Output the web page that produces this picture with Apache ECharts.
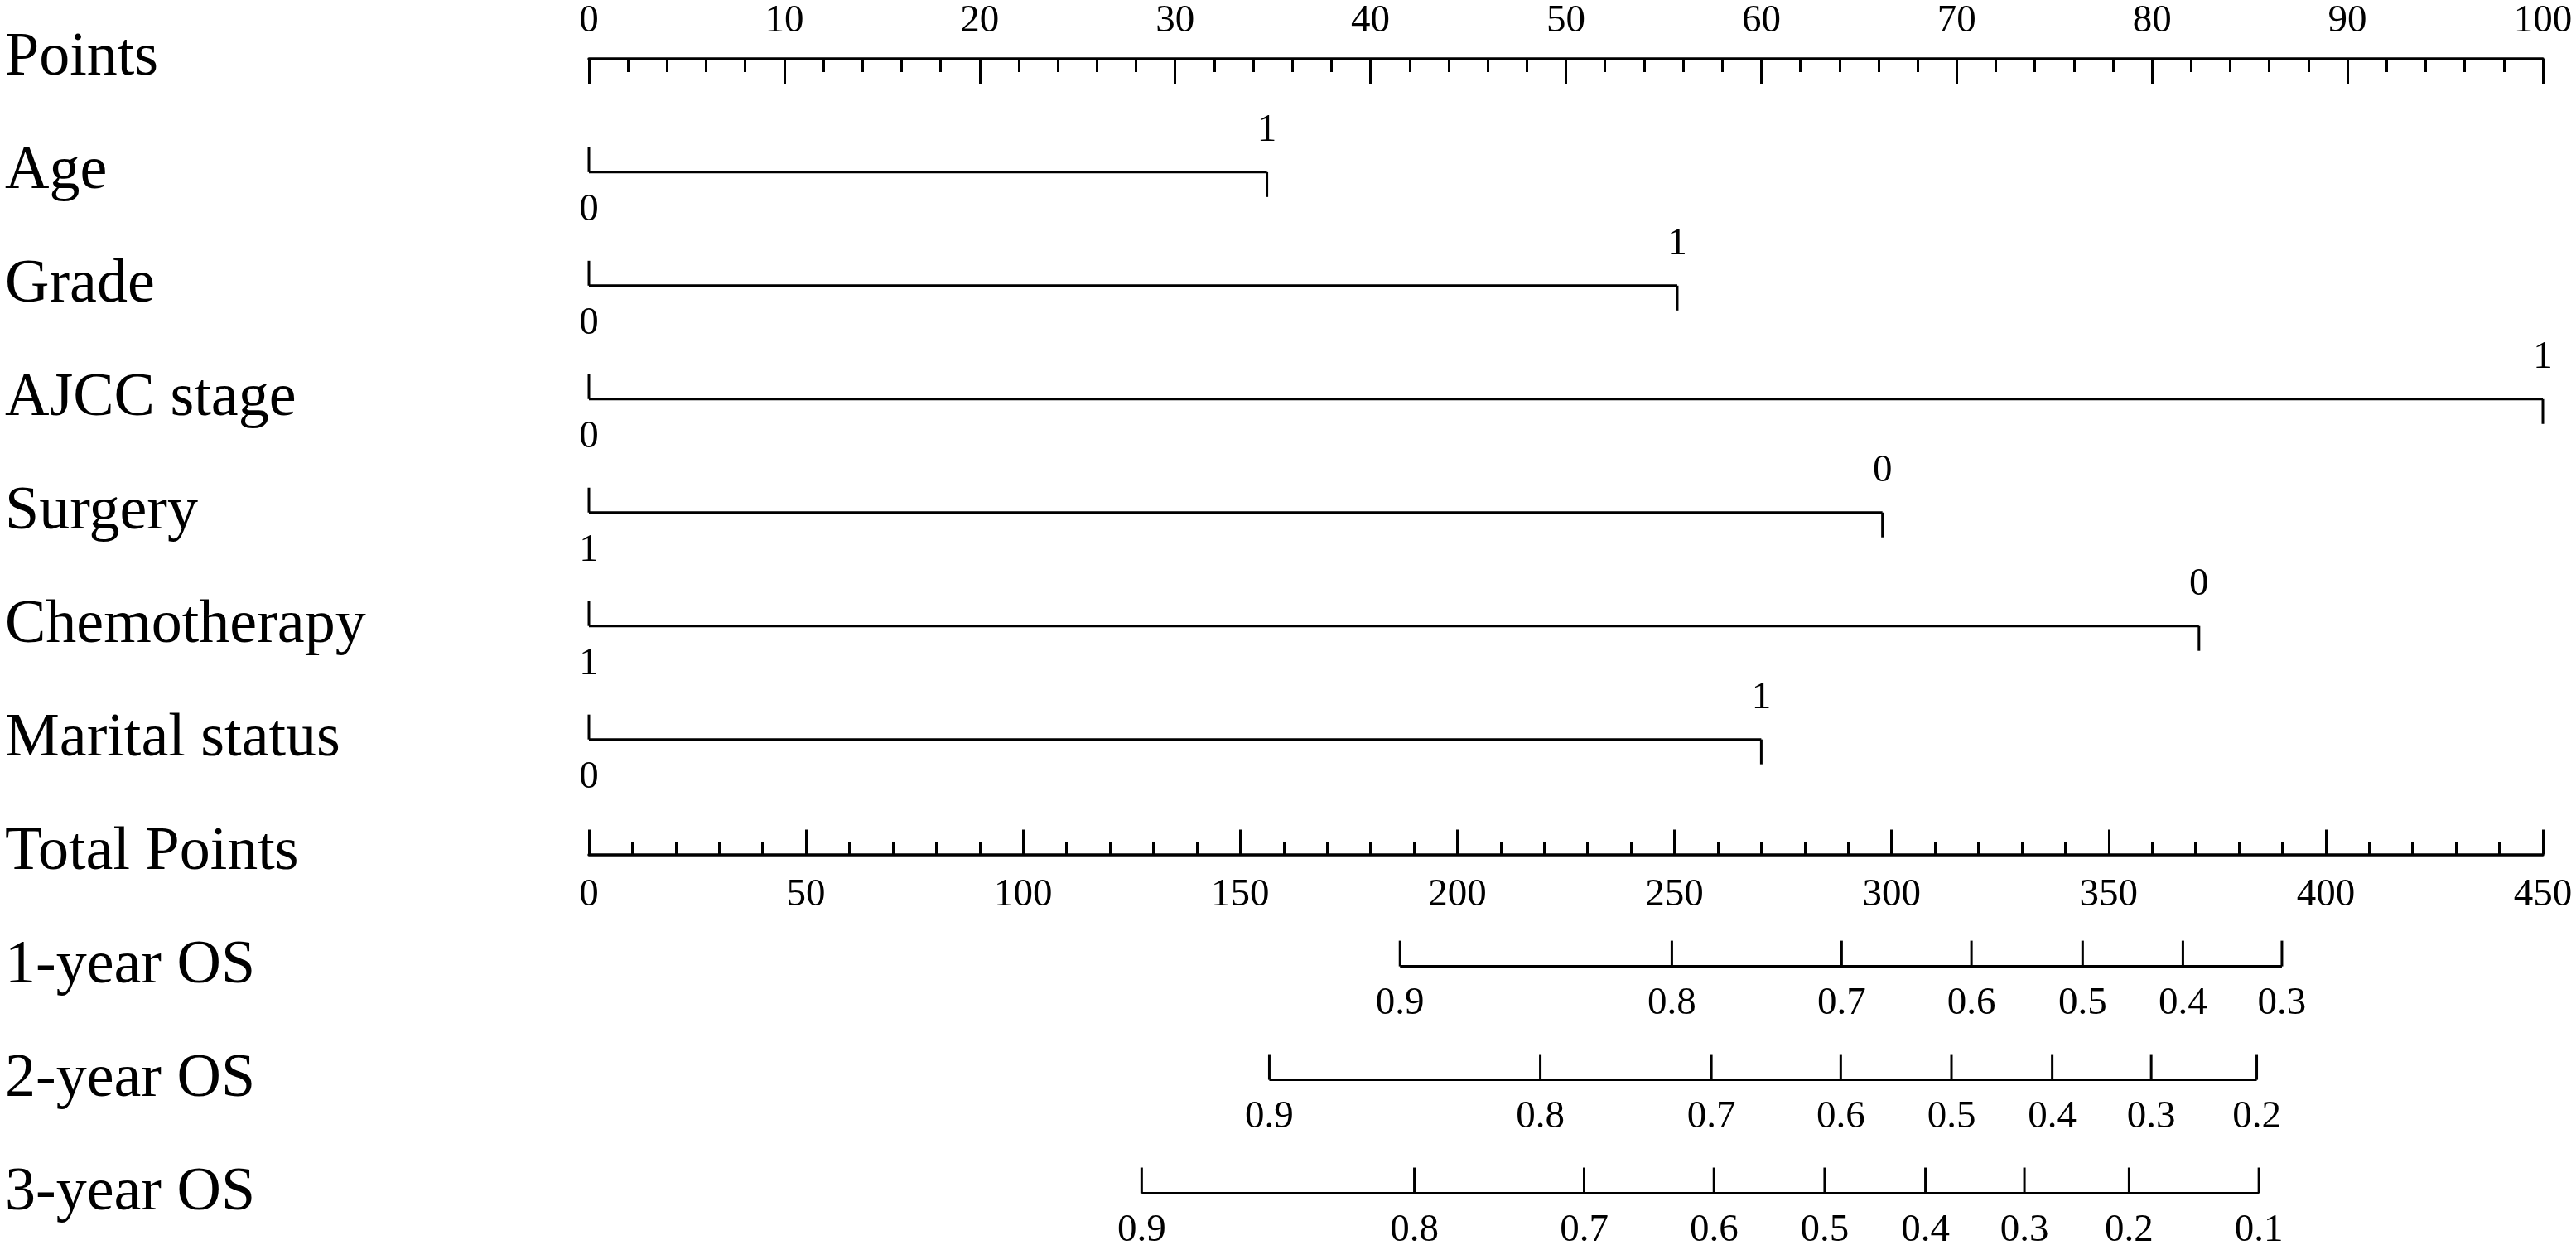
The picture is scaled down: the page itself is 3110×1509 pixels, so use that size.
<!DOCTYPE html>
<html>
<head>
<meta charset="utf-8">
<title>Nomogram</title>
<script src="https://cdn.jsdelivr.net/npm/echarts@6/dist/echarts.min.js"></script>
<style>
html, body { margin: 0; padding: 0; background: #fff; }
#main { width: 3110px; height: 1509px; }
</style>
</head>
<body>
<div id="main"></div>
<script>
// row names, top to bottom
const rowNames = ['Points', 'Age', 'Grade', 'AJCC stage', 'Surgery', 'Chemotherapy',
    'Marital status', 'Total Points', '1-year OS', '2-year OS', '3-year OS'];

// predictors: points for the highest level (low level = 0 points)
const varRows = [1, 2, 3, 4, 5, 6];
const varPoints = [34.7, 55.7, 100, 66.2, 82.4, 60.0];
const varLowLabels = ['0', '0', '0', '1', '1', '0'];
const varHighLabels = ['1', '1', '1', '0', '0', '1'];

// survival scales: probability labels and their total points
const osRows = [8, 9, 10];
const os1Probs = ['0.9', '0.8', '0.7', '0.6', '0.5', '0.4', '0.3'];
const os1Total = [186.8, 249.4, 288.5, 318.4, 344.0, 367.1, 389.9];
const os2Probs = ['0.9', '0.8', '0.7', '0.6', '0.5', '0.4', '0.3', '0.2'];
const os2Total = [156.7, 219.1, 258.5, 288.3, 313.8, 337.0, 359.8, 384.1];
const os3Probs = ['0.9', '0.8', '0.7', '0.6', '0.5', '0.4', '0.3', '0.2', '0.1'];
const os3Total = [127.3, 190.1, 229.2, 259.1, 284.6, 307.8, 330.6, 354.7, 384.6];
const osProbs = [os1Probs, os2Probs, os3Probs];
const osTotal = [os1Total, os2Total, os3Total];

const FONT = 'Liberation Serif';
const tickFont = 47;
const lw = 3;

var myChart = echarts.init(document.getElementById('main'));

function txt(x, y, s) {
    return {
        type: 'text',
        style: { x: x, y: y, text: s, fill: '#000', font: tickFont + 'px "' + FONT + '"',
            align: 'center', verticalAlign: 'middle' }
    };
}
function seg(x1, y1, x2, y2) {
    return {
        type: 'line',
        shape: { x1: x1, y1: y1, x2: x2, y2: y2 },
        style: { stroke: '#000', lineWidth: lw }
    };
}

// predictor lines
function renderVar(params, api) {
    var i = params.dataIndex;
    var p0 = api.coord([0, api.value(1)]);
    var p1 = api.coord([api.value(0), api.value(1)]);
    return {
        type: 'group',
        children: [
            seg(p0[0], p0[1], p1[0], p1[1]),
            seg(p0[0], p0[1] - 30, p0[0], p0[1]),
            seg(p1[0], p1[1], p1[0], p1[1] + 30),
            txt(p0[0], p0[1] + 46, varLowLabels[i]),
            txt(p1[0], p1[1] - 50, varHighLabels[i])
        ]
    };
}

// survival probability scales
function renderOS(params, api) {
    var i = params.dataIndex;
    var row = api.value(0);
    var tot = osTotal[i];
    var children = [];
    var a = api.coord([tot[0], row]);
    var b = api.coord([tot[tot.length - 1], row]);
    children.push(seg(a[0], a[1], b[0], b[1]));
    tot.forEach(function (t, k) {
        var p = api.coord([t, row]);
        children.push(seg(p[0], p[1] - 31, p[0], p[1]));
        children.push(txt(p[0], p[1] + 45, osProbs[i][k]));
    });
    return { type: 'group', children: children };
}

var rowH = 137.2;
var firstRow = 71;

var option = {
    backgroundColor: '#fff',
    animation: false,
    grid: [
        // Points axis
        { left: 711, right: 40, top: firstRow, height: 100 },
        // Total Points axis
        { left: 711, right: 40, top: firstRow + 7 * rowH - 100, height: 100 },
        // rows
        { left: 711, right: 40, top: firstRow - rowH / 2, height: rowH * rowNames.length }
    ],
    xAxis: [
        {
            gridIndex: 0, type: 'value', position: 'top', min: 0, max: 100, interval: 10,
            axisLine: { show: true, onZero: false, lineStyle: { color: '#000', width: 3.5 } },
            axisTick: { show: true, inside: true, length: 31, lineStyle: { color: '#000', width: lw } },
            minorTick: { show: true, splitNumber: 5, length: 16, lineStyle: { color: '#000', width: lw } },
            axisLabel: { color: '#000', fontFamily: FONT, fontSize: tickFont, margin: 22 },
            splitLine: { show: false }, minorSplitLine: { show: false }
        },
        {
            gridIndex: 1, type: 'value', position: 'bottom', min: 0, max: 450, interval: 50,
            axisLine: { show: true, onZero: false, lineStyle: { color: '#000', width: 3.5 } },
            axisTick: { show: true, inside: true, length: 30, lineStyle: { color: '#000', width: lw } },
            minorTick: { show: true, splitNumber: 5, length: 15, lineStyle: { color: '#000', width: lw } },
            axisLabel: { color: '#000', fontFamily: FONT, fontSize: tickFont, margin: 26 },
            splitLine: { show: false }, minorSplitLine: { show: false }
        },
        { gridIndex: 2, type: 'value', min: 0, max: 100, show: false },
        { gridIndex: 2, type: 'value', min: 0, max: 450, show: false }
    ],
    yAxis: [
        { gridIndex: 0, type: 'value', min: 0, max: 1, show: false },
        { gridIndex: 1, type: 'value', min: 0, max: 1, show: false },
        {
            gridIndex: 2, type: 'category', data: rowNames, inverse: true,
            axisLine: { show: false }, axisTick: { show: false }, splitLine: { show: false },
            axisLabel: {
                color: '#000', fontFamily: FONT, fontSize: 74, align: 'left',
                margin: 705, padding: [0, 0, 10, 0]
            }
        }
    ],
    series: [
        {
            type: 'custom', xAxisIndex: 2, yAxisIndex: 2, clip: false,
            renderItem: renderVar,
            data: varPoints.map(function (v, i) { return [v, varRows[i]]; })
        },
        {
            type: 'custom', xAxisIndex: 3, yAxisIndex: 2, clip: false,
            renderItem: renderOS,
            data: osRows.map(function (r) { return [r]; })
        }
    ]
};

myChart.setOption(option);
window.addEventListener('resize', function () {
    myChart.resize();
});
</script>
</body>
</html>
